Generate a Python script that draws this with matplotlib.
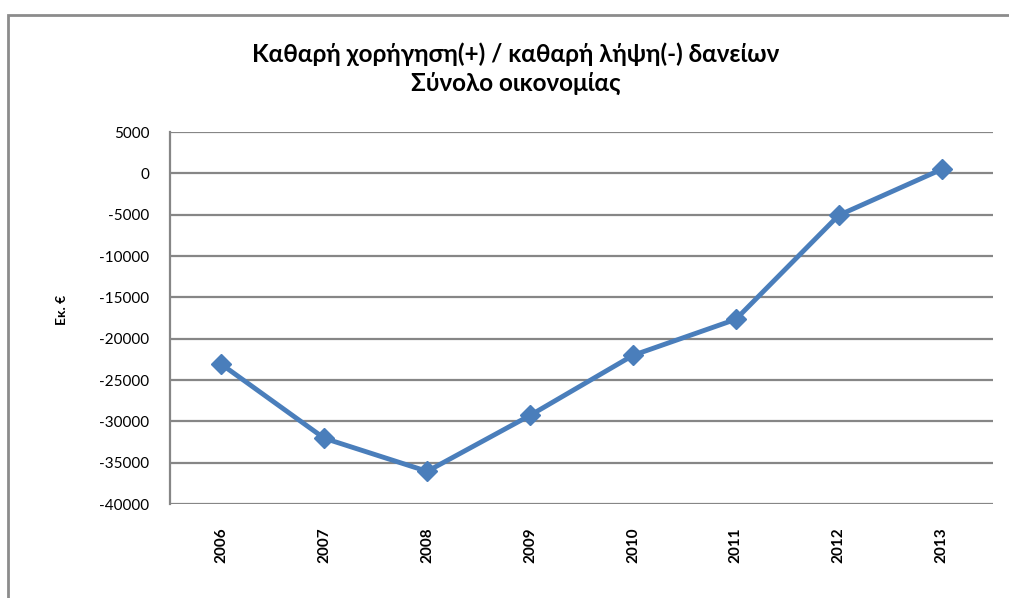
import matplotlib.pyplot as plt
from matplotlib.patches import Rectangle

years = ["2006", "2007", "2008", "2009", "2010", "2011", "2012", "2013"]
values = [-23100, -32050, -36050, -29280, -22020, -17660, -5080, 480]
yticks = list(range(-40000, 5001, 5000))

plt.rcParams['font.family'] = ['Lato', 'DejaVu Sans']

fig = plt.figure(figsize=(10.09, 5.98), dpi=100)
# frame around the chart (right and bottom edges cut off)
fig.patches.append(Rectangle((8 / 1009, -0.1), 1.2, 1 - 15 / 598 + 0.1,
                             transform=fig.transFigure, fill=False,
                             edgecolor="#8c8c8c", lw=2))

ax = fig.add_axes([170 / 1009, 1 - 504 / 598, 823 / 1009, 372 / 598])
x = range(len(years))
ax.plot(x, values, color="#4a7ebb", lw=3.5, marker="D", markersize=10,
        markerfacecolor="#4a7ebb", markeredgecolor="#4a7ebb", zorder=3)

ax.set_xlim(-0.5, len(years) - 0.5)
ax.set_ylim(-40000, 5000)
ax.set_yticks(yticks)
ax.set_yticklabels([str(v) for v in yticks], fontsize=11)
ax.set_xticks(list(x))
ax.set_xticklabels(years, rotation=90, fontsize=11, fontweight="bold")
ax.tick_params(axis="x", length=0, pad=17)
ax.tick_params(axis="y", length=0, pad=15)
ax.grid(axis="y", color="#868686", lw=1.6)
ax.set_axisbelow(True)
for s in ["top", "right", "bottom"]:
    ax.spines[s].set_visible(False)
ax.spines["left"].set_color("#868686")
ax.spines["left"].set_linewidth(1.6)

fig.text(516 / 1009, 1 - 69 / 598,
         "Καθαρή χορήγηση(+) / καθαρή λήψη(-) δανείων\nΣύνολο οικονομίας",
         ha="center", va="center", fontsize=17.5, fontweight="bold",
         linespacing=1.3)
fig.text(62 / 1009, 1 - 310 / 598, "Εκ. €", rotation=90, ha="center",
         va="center", fontsize=10, fontweight="bold")

fig.savefig("out.png", dpi=100)
